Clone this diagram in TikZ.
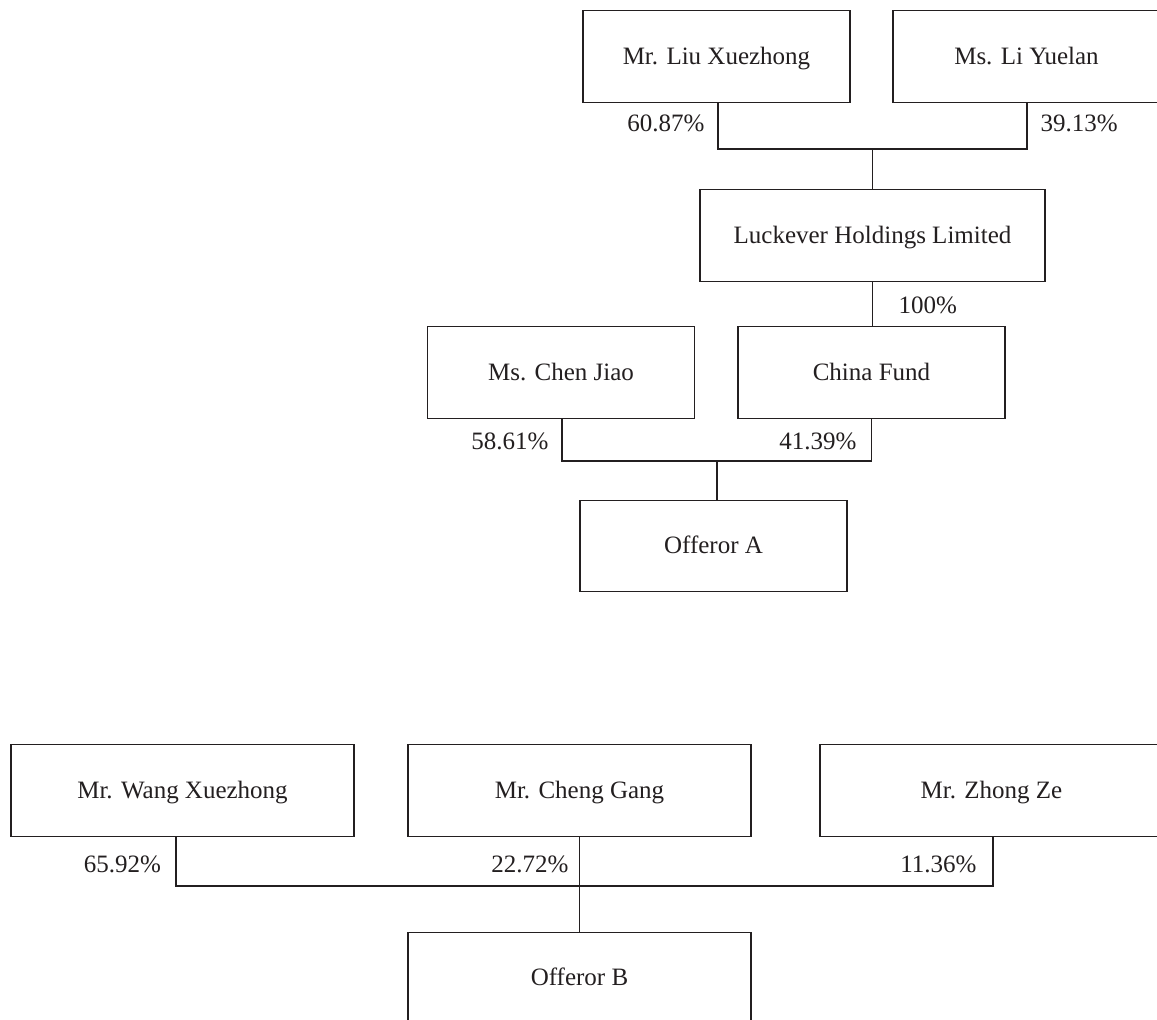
\documentclass[tikz,border=0pt]{standalone}
\usepackage{fontspec}
\setmainfont{Liberation Serif}
\definecolor{ink}{RGB}{35,31,32}
\begin{document}
\begin{tikzpicture}[x=1pt,y=-1pt,line width=1.2pt,
  box/.style={draw=ink,text=ink,minimum width=267pt,minimum height=91.5pt,inner sep=0pt,text height=16pt,text depth=1pt,font=\fontsize{25}{30}\selectfont},
  widebox/.style={box,minimum width=343pt},
  pct/.style={text=ink,inner sep=0pt,font=\fontsize{25}{30}\selectfont},
  link/.style={draw=ink}]
\useasboundingbox[fill=white] (0,0) rectangle (1157,1020);
% upper structure
\node[box] (liu) at (716.5,56.5) {Mr. Liu Xuezhong};
\node[box] (li) at (1026.5,56.5) {Ms. Li Yuelan};
\node[box,minimum width=345pt] (luck) at (872.5,235.5) {Luckever Holdings Limited};
\node[box] (chen) at (561,372.5) {Ms. Chen Jiao};
\node[box] (china) at (871.5,372.5) {China Fund};
\node[box] (offA) at (713.5,546) {Offeror A};
\coordinate (jTop) at (872.5,149);
\coordinate (jA) at (717,461);
\draw[link] ([xshift=1.5pt]liu.south) |- (jTop) -| ([xshift=0.5pt]li.south);
\draw[link] (jTop) -- (luck.north);
\draw[link] (luck.south) -- (luck.south |- china.north);
\draw[link] ([xshift=1pt]chen.south) |- (jA) -| (china.south);
\draw[link] (jA) -- (jA |- offA.north);
\node[pct,anchor=east] (p1) at (705,123) {60.87\%};
\node[pct,anchor=west] (p2) at (1040,123) {39.13\%};
\node[pct,anchor=west] (p3) at (898,305.5) {100\%};
\node[pct,anchor=east] (p4) at (549,441) {58.61\%};
\node[pct,anchor=east] (p5) at (857,441) {41.39\%};
% lower structure
\node[widebox] (wang) at (182.5,790.5) {Mr. Wang Xuezhong};
\node[widebox] (cheng) at (579.5,790.5) {Mr. Cheng Gang};
\node[widebox] (zhong) at (991.5,790.5) {Mr. Zhong Ze};
\node[widebox] (offB) at (579.5,978) {Offeror B};
\coordinate (jB) at (579.5,886);
\draw[link] ([xshift=-6.5pt]wang.south) |- (jB) -| ([xshift=1.5pt]zhong.south);
\draw[link] (cheng.south) -- (offB.north);
\node[pct,anchor=east] (p6) at (161.5,864) {65.92\%};
\node[pct,anchor=east] (p7) at (569,864) {22.72\%};
\node[pct,anchor=east] (p8) at (977,864) {11.36\%};
\end{tikzpicture}
\end{document}
